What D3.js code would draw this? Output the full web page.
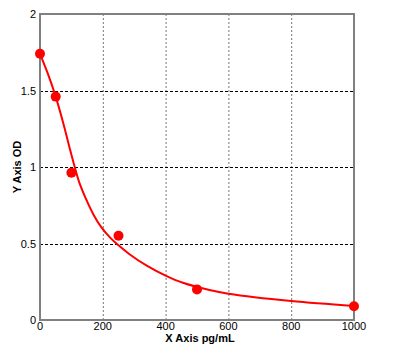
<!DOCTYPE html>
<html>
<head>
<meta charset="utf-8">
<script src="https://cdnjs.cloudflare.com/ajax/libs/d3/7.8.5/d3.min.js"></script>
<style>
  body { margin: 0; background: #fff; }
  svg text { font-family: "Liberation Sans", Arial, sans-serif; }
</style>
</head>
<body>
<svg class="container"></svg>
<script>
// standard points (concentration pg/mL, OD)
const concentrations = [0, 50, 100, 250, 500, 1000];
const odValues = [1.74, 1.46, 0.963, 0.551, 0.2, 0.09];

// fitted curve
const curveX = [0, 25, 50, 75, 95, 110, 125, 150, 170, 195, 225, 250, 285, 340, 400, 455, 540, 600, 800, 1000];
const curveY = [1.74, 1.61, 1.46, 1.28, 1.12, 1.005, 0.90, 0.775, 0.69, 0.607, 0.535, 0.488, 0.43, 0.355, 0.29, 0.243, 0.196, 0.172, 0.124, 0.092];

const xTicks = [0, 200, 400, 600, 800, 1000];
const yTicks = [0, 0.5, 1, 1.5, 2];

const w = 398, h = 360;
const margin = { top: 14, right: 44, bottom: 40, left: 40 };

const xScale = d3.scaleLinear().domain([0, 1000]).range([margin.left, w - margin.right]);
const yScale = d3.scaleLinear().domain([0, 2]).range([h - margin.bottom, margin.top]);

const svg = d3.select('.container').attr('width', w).attr('height', h);

// grid
svg.selectAll('.vgrid').data(xTicks.slice(1, -1)).join('line')
  .attr('class', 'vgrid')
  .attr('x1', d => xScale(d) + 0.5).attr('x2', d => xScale(d) + 0.5)
  .attr('y1', yScale(2)).attr('y2', yScale(0))
  .attr('stroke', '#777')
  .attr('stroke-dasharray', '2,2');

svg.selectAll('.hgrid').data(yTicks.slice(1, -1)).join('line')
  .attr('class', 'hgrid')
  .attr('x1', xScale(0)).attr('x2', xScale(1000))
  .attr('y1', d => Math.round(yScale(d)) + 0.5).attr('y2', d => Math.round(yScale(d)) + 0.5)
  .attr('stroke', '#000')
  .attr('stroke-dasharray', '3,2');

// frame
svg.append('rect')
  .attr('x', xScale(0)).attr('y', yScale(2))
  .attr('width', xScale(1000) - xScale(0))
  .attr('height', yScale(0) - yScale(2))
  .attr('fill', 'none')
  .attr('stroke', '#808080')
  .attr('stroke-width', 2);

// tick labels
svg.selectAll('.xlab').data(xTicks).join('text')
  .attr('class', 'xlab')
  .attr('x', d => xScale(d))
  .attr('y', yScale(0) + 10)
  .attr('text-anchor', 'middle')
  .style('font-size', '11px')
  .text(d => d);

svg.selectAll('.ylab').data(yTicks).join('text')
  .attr('class', 'ylab')
  .attr('x', xScale(0) - 4)
  .attr('y', d => yScale(d) + 4)
  .attr('text-anchor', 'end')
  .style('font-size', '11px')
  .text(d => d);

// axis titles
svg.append('text')
  .attr('x', (xScale(0) + xScale(1000)) / 2 + 3)
  .attr('y', yScale(0) + 22)
  .attr('text-anchor', 'middle')
  .style('font-size', '11px')
  .style('font-weight', 'bold')
  .text('X Axis pg/mL');

svg.append('text')
  .attr('transform', `translate(21, ${(yScale(0) + yScale(2)) / 2}) rotate(-90)`)
  .attr('text-anchor', 'middle')
  .style('font-size', '11px')
  .style('font-weight', 'bold')
  .text('Y Axis OD');

// fitted curve
const lineGen = d3.line()
  .x(d => xScale(d[0]))
  .y(d => yScale(d[1]))
  .curve(d3.curveCatmullRom.alpha(0.5));

svg.append('path')
  .datum(curveX.map((x, i) => [x, curveY[i]]))
  .attr('d', lineGen)
  .attr('fill', 'none')
  .attr('stroke', '#ff0000')
  .attr('stroke-width', 2);

// points
svg.selectAll('.pt').data(concentrations.map((c, i) => [c, odValues[i]])).join('circle')
  .attr('class', 'pt')
  .attr('cx', d => xScale(d[0]))
  .attr('cy', d => yScale(d[1]))
  .attr('r', 5)
  .attr('fill', '#ff0000');
</script>
</body>
</html>
